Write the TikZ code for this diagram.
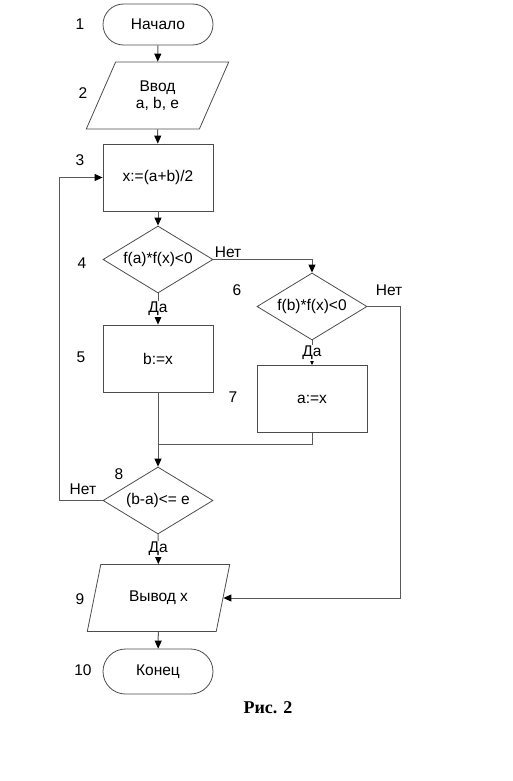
\documentclass[tikz,border=0pt]{standalone}
\usepackage{fontspec}
\setmainfont{Liberation Sans}
\newfontfamily\capfont{Liberation Serif}
\usetikzlibrary{shapes.geometric, shapes.misc, arrows.meta}

\begin{document}
\begin{tikzpicture}[x=1pt, y=-1pt, font=\fontsize{15.5}{17.5}\selectfont,
    blk/.style={draw=black!70, line width=0.8pt, minimum width=110, minimum height=67, inner sep=0pt, align=center},
    term/.style={blk, rounded rectangle, minimum height=41},
    proc/.style={blk, rectangle},
    io/.style={blk, trapezium, trapezium left angle=63.4, trapezium right angle=116.6, trapezium stretches, minimum width=143},
    cond/.style={blk, diamond, aspect=2},
    line/.style={draw=black!65, line width=1pt},
    arr/.style={line, -{Triangle[length=8pt, width=7pt, color=black]}},
    yes/.style={fill=white, inner sep=1pt}]
  \useasboundingbox (0,0) rectangle (512,781);
  % blocks of the scheme
  \node[term] (start) at (158,24.5) {Начало};
  \node[io]   (input) at (157.5,95.5) {Ввод\\a, b, e};
  \node[proc] (mid)   at (158,177.5) {x:=(a+b)/2};
  \node[cond] (fa)    at (158,259.5) {f(a)*f(x)<0};
  \node[proc] (setb)  at (158,358.5) {b:=x};
  \node[cond] (fb)    at (312,306.5) {f(b)*f(x)<0};
  \node[proc] (seta)  at (312,399) {a:=x};
  \node[cond] (eps)   at (158,500.5) {(b-a)<= e};
  \node[io]   (output) at (158.5,598) {Вывод x};
  \node[term, minimum height=45] (stop) at (158,671.5) {Конец};
  % step numbers
  \foreach \n/\x/\y in {1/80/24, 2/83/93, 3/80/160, 4/82/263, 5/81/357, 6/237/290, 7/233/397, 8/119/474, 9/80/599, 10/83/670}
    \node (n\n) at (\x,\y) {\n};
  \coordinate (join) at (158,444);
  \coordinate (fbout) at (400,306.5);
  \coordinate (back) at (59,500.5);
  % connectors
  \draw[arr] (start) -- (input);
  \draw[arr] (input) -- (mid);
  \draw[arr] (mid) -- (fa);
  \draw[arr] (fa) -- node[yes] {Да} (setb);
  \draw[arr] (fa.east) node[anchor=south west, inner sep=1pt] {Нет} -| (fb.north);
  \draw[arr] (fb) -- node[yes] {Да} (seta);
  \draw[arr] (fb.east) node[anchor=south west, inner sep=1pt, xshift=7pt, yshift=9pt] {Нет} -- (fbout) |- (output.east);
  \draw[arr] (setb) -- (eps);
  \draw[line] (seta) |- (join);
  \draw[arr] (eps.west) node[anchor=south east, inner sep=1pt, xshift=-5pt, yshift=4pt] {Нет} -- (back) |- (mid.west);
  \draw[arr] (eps) -- node[yes] {Да} (output);
  \draw[arr] (output) -- (stop);
  \node[font=\capfont\bfseries\fontsize{18}{20}\selectfont] (cap) at (268,708) {Рис. 2};
\end{tikzpicture}
\end{document}
